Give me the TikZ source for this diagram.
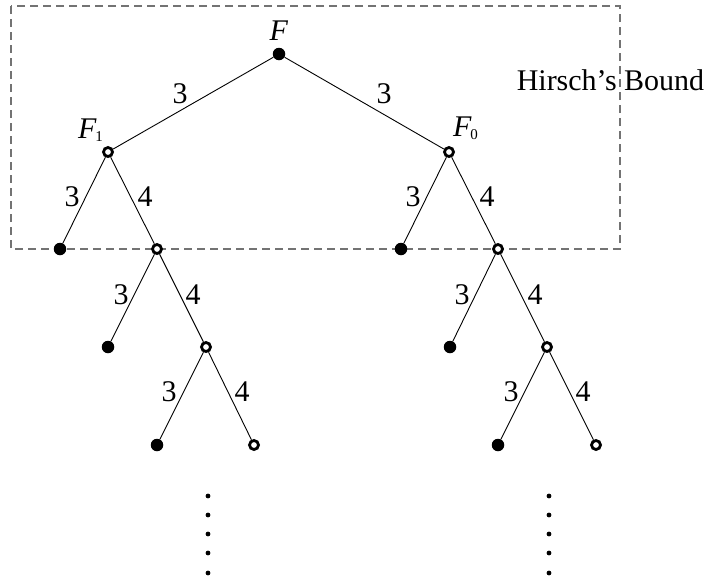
\documentclass[tikz,border=0pt]{standalone}
\usepackage{fontspec}
\setmainfont{Liberation Serif}
\begin{document}
\begin{tikzpicture}[x=1pt,y=-1pt,
  filled/.style={circle, fill=black, inner sep=0pt, minimum size=12.5pt},
  hollow/.style={circle, draw=black, fill=white, line width=2.8pt, inner sep=0pt, minimum size=9pt},
  tiny/.style={circle, fill=black, inner sep=0pt, minimum size=4.8pt},
  lbl/.style={font=\fontsize{30}{33}\selectfont, inner sep=0pt},
  link/.style={line width=0.9pt},
  bound/.style={dashed, dash pattern=on 8pt off 5pt, line width=1.2pt, draw=black!55}]
\useasboundingbox (0,0) rectangle (712,584);
% bound box
\draw[bound] (11,6) rectangle (620,249);
\node[lbl] (hb) at (610.5,80) {Hirsch’s Bound};
% nodes
\node[filled] (F) at (279,54) {};
\node[hollow] (F1) at (108,152) {};
\node[hollow] (F0) at (449,152) {};
\node[filled] (a1) at (60,249) {};
\node[hollow] (a2) at (157,249) {};
\node[filled] (b1) at (401,249) {};
\node[hollow] (b2) at (498,249) {};
\node[filled] (a3) at (108,347) {};
\node[hollow] (a4) at (206,347) {};
\node[filled] (b3) at (450,347) {};
\node[hollow] (b4) at (547,347) {};
\node[filled] (a5) at (157,445) {};
\node[hollow] (a6) at (254,445) {};
\node[filled] (b5) at (498,445) {};
\node[hollow] (b6) at (596,445) {};
% names
\node[lbl] (tF) at (279,31) {\textit{F}};
\node[lbl, anchor=base west] (tF1) at (78,138) {\textit{F}\kern-1.5pt\raisebox{-3pt}{\fontsize{15}{15}\selectfont 1}};
\node[lbl, anchor=base west] (tF0) at (453,136) {\textit{F}\kern-1.5pt\raisebox{-3pt}{\fontsize{15}{15}\selectfont 0}};
% edges
\draw[link] (F) -- (F1);
\draw[link] (F) -- (F0);
\draw[link] (F1) -- (a1);
\draw[link] (F1) -- (a2);
\draw[link] (F0) -- (b1);
\draw[link] (F0) -- (b2);
\draw[link] (a2) -- (a3);
\draw[link] (a2) -- (a4);
\draw[link] (b2) -- (b3);
\draw[link] (b2) -- (b4);
\draw[link] (a4) -- (a5);
\draw[link] (a4) -- (a6);
\draw[link] (b4) -- (b5);
\draw[link] (b4) -- (b6);
% edge labels
\node[lbl] (l1) at (180,94) {3};
\node[lbl] (l2) at (384,94) {3};
\node[lbl] (l3) at (72,197) {3};
\node[lbl] (l4) at (145,197) {4};
\node[lbl] (l5) at (413,197) {3};
\node[lbl] (l6) at (487,197) {4};
\node[lbl] (l7) at (121,295) {3};
\node[lbl] (l8) at (193,295) {4};
\node[lbl] (l9) at (462,295) {3};
\node[lbl] (l10) at (535,295) {4};
\node[lbl] (l11) at (169,392) {3};
\node[lbl] (l12) at (242,392) {4};
\node[lbl] (l13) at (511,392) {3};
\node[lbl] (l14) at (583,392) {4};
% continuation dots
\foreach \i/\y in {1/496,2/515,3/534,4/553,5/573}{
  \node[tiny] (da\i) at (208,\y) {};
  \node[tiny] (db\i) at (549,\y) {};
}
\end{tikzpicture}
\end{document}
